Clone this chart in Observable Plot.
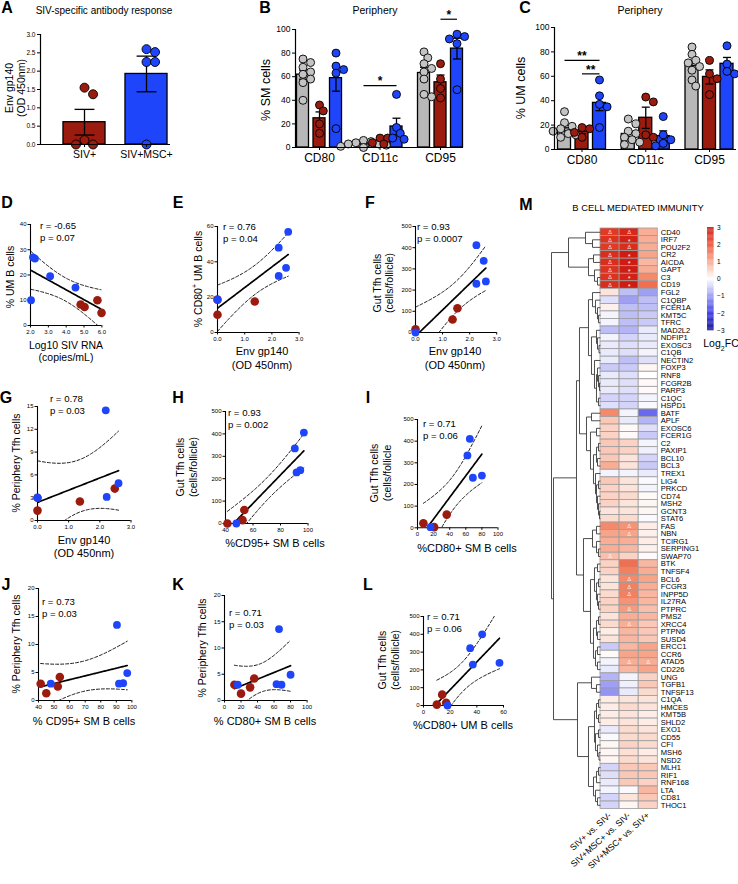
<!DOCTYPE html>
<html><head><meta charset="utf-8">
<script src="https://cdn.jsdelivr.net/npm/d3@7"></script>
<script src="https://cdn.jsdelivr.net/npm/@observablehq/plot@0.6"></script>
<style>
html,body{margin:0;padding:0;background:#fff;overflow:hidden}
#fig{position:relative;width:738px;height:884px;font-family:"Liberation Sans",Arial,Helvetica,sans-serif;color:#000}
.t{position:absolute;white-space:nowrap;line-height:1}
</style></head><body><div id="fig"></div>
<script>
// ---------------- DATA ----------------
const conds = ["SIV-", "SIV+", "SIV+MSC+"];
const markers = ["CD80", "CD11c", "CD95"];
// A: Env gp140 (OD 450nm)
const gpSIV = [1.55, 1.37, 0.12, 0, 0];
const gpMSC = [2.6, 2.52, 2.25, 2.25, 0];
// B: % SM cells [SIV-, SIV+, SIV+MSC+]
const smCD80 = [[75, 72, 68, 64, 62, 58, 55, 40], [36, 31, 20, 12], [80, 69, 66, 63, 16]];
const smCD11c = [[6, 5, 4, 3, 3, 2, 1, 0], [8, 8, 4, 3], [45, 17, 12, 8, 7]];
const smCD95 = [[81, 76, 71, 67, 64, 58, 45, 43], [71, 58, 50, 42], [96, 94, 92, 88, 49]];
// C: % UM cells
const umCD80 = [[31, 22, 19, 17, 15, 13, 12, 10], [18, 17, 14, 10], [57, 44, 37, 35, 18]];
const umCD11c = [[25, 21, 15, 13, 10, 8, 6, 4], [43, 39, 12, 10], [27, 12, 8, 5, 3]];
const umCD95 = [[84, 78, 73, 71, 68, 65, 57, 52], [73, 62, 58, 45], [85, 70, 64, 62]];
// significance bars: [marker index, cond from, cond to, y value, label]
const sigB = [[1, 0, 2, 52.5, "*"], [2, 1, 2, 108.7, "*"]];
const sigC = [[0, 0, 2, 73, "**"], [0, 1, 2, 62, "**"]];

// correlation panels: [x, y] pairs, red = SIV+, blue = SIV+MSC+
const dRed = [[4.81, 8.3], [5.03, 7.3], [5.75, 10], [5.98, 5]];
const dBlue = [[2.03, 10], [2.14, 27], [2.25, 26.5], [3.1, 19.5], [4.52, 15]];
const eRed = [[0, 18.6], [0, 10], [1.37, 17.5]];
const eBlue = [[2.6, 57], [2.25, 48], [2.52, 36.6], [2.25, 32], [0, 18.6]];
const fRed = [[1.55, 114], [1.37, 61], [0, 15]];
const fBlue = [[2.25, 412], [2.52, 338], [2.25, 230], [2.6, 241], [0, 0]];
const gRed = [[2.48, 4.2], [1.36, 2.5], [0, 3.0], [0, 1.3]];
const gBlue = [[2.19, 14.5], [2.6, 4.9], [2.22, 3.1], [0, 3.0]];
const hRed = [[53.7, 60], [52.4, 15], [41.4, 0]];
const hBlue = [[97, 406], [90.4, 335], [94.4, 238], [91.7, 228], [47.9, 0]];
const iRed = [[7.3, 21], [36.3, 61], [20.7, 3]];
const iBlue = [[65, 411], [62, 334], [80, 241], [68.8, 231], [16.2, 3]];
const jRed = [[53.7, 4.2], [52.4, 2.5], [41.4, 3.0], [45, 1.3]];
const jBlue = [[90.4, 13.5], [97, 4.9], [94.4, 3.1], [91.7, 3.0], [47.9, 3.0]];
const kRed = [[36, 4.2], [31, 2.5], [12, 3.0], [20, 1.3]];
const kBlue = [[66, 13.6], [80, 4.9], [63, 3.1], [69, 3.0], [16, 3.0]];
const lRed = [[17, 15], [14, 61], [10, 5]];
const lBlue = [[44, 400], [35, 322], [57, 240], [37, 230], [18, 0]];
const stats = [["r = -0.65", "p = 0.07"], ["r = 0.76", "p = 0.04"], ["r = 0.93", "p = 0.0007"],
  ["r = 0.78", "p = 0.03"], ["r = 0.93", "p = 0.002"], ["r = 0.71", "p = 0.06"],
  ["r = 0.73", "p = 0.03"], ["r = 0.71", "p = 0.03"], ["r = 0.71", "p = 0.06"]];

// M: heatmap
const comps = ["SIV+ vs. SIV-", "SIV+MSC+ vs. SIV-", "SIV+MSC+ vs. SIV+"];
const genes = ["CD40","IRF7","POU2F2","CR2","AICDA","GAPT","C3","CD19",
  "FGL2","C1QBP","FCER1A","KMT5C","TFRC","MAD2L2","NDFIP1","EXOSC3","C1QB","NECTIN2","FOXP3","RNF8","FCGR2B","PARP3","C1QC","HSPD1",
  "BATF","APLF","EXOSC6","FCER1G","C2","PAXIP1","BCL10","BCL3","TREX1","LIG4","PRKCD","CD74","MSH2","GCNT3","STAT6",
  "FAS","NBN","TCIRG1","SERPING1","SWAP70","BTK","TNFSF4","BCL6","FCGR3","INPP5D","IL27RA","PTPRC","PMS2","XRCC4","PTPN6","SUSD4","ERCC1","CCR6","ATAD5","CD226",
  "UNG","TGFB1","TNFSF13","C1QA","HMCES","KMT5B","SHLD2","EXO1","CD55","CFI","MSH6","NSD2","MLH1","RIF1","RNF168","LTA","CD81","THOC1"];
const fc1 = [2.3,2.4,2.3,2.5,2.5,2.4,2.4,2.5,
  0.3,-0.3,0.15,-0.1,-0.1,-0.6,-0.1,-0.2,-0.2,-0.2,-0.5,-0.2,-0.2,-0.2,-0.4,-0.3,
  1.3,0.6,0.5,0.5,0.6,0.6,0.6,0.9,-0.1,0.6,0.5,0.5,0.5,0.3,0.4,
  1.3,1.0,0.9,0.9,0.7,0.5,0.5,0.3,0.3,0.4,0.5,0.5,0.3,0.4,0.2,0.3,-0.5,0.05,-0.1,-0.2,
  -0.7,-0.9,-1.0,0.2,0.2,0.2,0.2,-0.2,-0.05,0.1,0.1,0.1,-0.4,-0.3,-0.2,-0.1,-0.4,-0.4];
const fc2 = [2.6,2.7,2.5,2.8,2.8,2.8,2.7,2.8,
  -0.6,-0.9,-0.6,-0.6,-0.6,-0.7,-0.4,-0.3,-0.3,-0.6,-0.5,-0.3,-0.3,-0.3,-0.4,-0.4,
  -0.1,-0.2,0.05,0.05,0.5,0.5,0.3,0.3,-0.1,0.3,0.3,0.4,0.3,0.3,0.4,
  1.2,1.0,0.9,0.8,0.5,1.6,1.4,1.3,1.4,1.4,1.2,1.1,0.9,0.9,0.8,0.8,0.8,1.0,0.9,0.8,
  -0.1,-0.15,-0.2,0.3,0.4,0.3,0.3,0.4,0.4,0.5,0.35,0.4,0.6,0.6,0.6,-0.05,0.3,0.1];
const fc3 = [0.9,0.9,0.9,1.0,0.8,0.9,1.3,1.6,
  -0.9,-0.6,-0.6,-0.5,-0.5,-0.2,-0.2,-0.2,-0.1,-0.3,0.1,0.0,0.05,0.05,-0.1,-0.05,
  -1.4,-0.7,-0.3,-0.5,-0.1,-0.15,-0.4,-0.5,-0.2,-0.05,-0.1,0.05,0.1,0.1,-0.05,
  0.2,0.15,0.2,0.15,0.05,0.8,0.9,1.0,0.9,0.8,0.8,0.7,0.8,0.6,0.6,0.6,1.0,1.0,0.9,1.0,
  0.5,0.6,0.4,0.3,0.3,0.2,0.2,0.3,0.4,0.4,0.2,0.3,0.6,0.6,0.5,0.8,0.6,0.5];
// significance symbols: [gene, comparison index, symbol]
const sigM = [["CD40",0,"Δ"],["IRF7",0,"Δ"],["POU2F2",0,"Δ"],["CR2",0,"Δ"],["AICDA",0,"Δ"],["GAPT",0,"Δ"],["C3",0,"Δ"],["CD19",0,"Δ"],
  ["CD40",1,"Δ"],["IRF7",1,"*"],["POU2F2",1,"Δ"],["CR2",1,"*"],["AICDA",1,"*"],["GAPT",1,"*"],["C3",1,"*"],["CD19",1,"*"],
  ["FAS",1,"Δ"],["NBN",1,"Δ"],["SWAP70",0,"Δ"],["BCL6",1,"Δ"],["FCGR3",1,"Δ"],["INPP5D",1,"Δ"],["PTPRC",1,"Δ"],["XRCC4",1,"Δ"],["ATAD5",1,"Δ"],["ATAD5",2,"Δ"]];
// dendrogram: N(merge height, ...children)
const N = (h, ...c) => ({h, c});
const tree = N(49,
  N(32, N(15, "CD40", N(8, "IRF7", "POU2F2")), N(12, N(7, "CR2", "AICDA"), N(6, "GAPT", N(3, "C3", "CD19")))),
  N(47,
    N(24,
      N(21,
        N(12, N(8, "FGL2", N(5, "C1QBP", N(3, "FCER1A", N(2, "KMT5C", "TFRC")))),
              N(9, N(4, "MAD2L2", N(3, "NDFIP1", N(1.5, "EXOSC3", "C1QB"))),
                   N(6, "NECTIN2", N(4, N(3, "FOXP3", N(2, "RNF8", N(1, "FCGR2B", "PARP3"))), N(2, "C1QC", "HSPD1"))))),
        N(14, N(9, "BATF", "APLF"),
              N(10, N(4, "EXOSC6", "FCER1G"),
                    N(7, N(4, N(2, "C2", "PAXIP1"), N(3, "BCL10", "BCL3")),
                         N(5, "TREX1", N(4, N(2, "LIG4", "PRKCD"), N(3, "CD74", N(2, "MSH2", N(1, "GCNT3", "STAT6"))))))))),
      N(17, N(8, N(4, "FAS", "NBN"), N(4, "TCIRG1", N(2, "SERPING1", "SWAP70"))),
            N(10, N(6, N(3, "BTK", "TNFSF4"), N(4, N(2, "BCL6", "FCGR3"), N(3, "INPP5D", N(2, "IL27RA", "PTPRC")))),
                  N(7, N(4, N(2, "PMS2", "XRCC4"), N(3, "PTPN6", "SUSD4")), N(5, N(3, "ERCC1", "CCR6"), N(3, "ATAD5", "CD226")))))),
    N(23, N(9, "UNG", N(4, "TGFB1", "TNFSF13")),
          N(12, N(6, N(4, N(2, "C1QA", "HMCES"), N(2, "KMT5B", "SHLD2")), N(5, N(2, "EXO1", "CD55"), N(3, "CFI", N(1.5, "MSH6", "NSD2")))),
                N(7, N(4, N(2, "MLH1", "RIF1"), "RNF168"), N(5, "LTA", N(3, "CD81", "THOC1")))))));

// ---------------- RENDER ----------------
const fig = document.getElementById("fig");
const FONT = "'Liberation Sans', Arial, Helvetica, sans-serif";
const GRAY = "#b8b8b8", RED = "#9c1b0f", BLUE = "#1f45fb";
const M = 30;
const minus = d => (d < 0 ? "\u2212" + (-d) : "" + d);
function put(el, left, top) { el.style.position = "absolute"; el.style.left = left + "px"; el.style.top = top + "px"; fig.appendChild(el); }
function T(html, x, y, o = {}) {
  const d = document.createElement("div"); d.className = "t"; d.innerHTML = html;
  d.style.left = x + "px"; d.style.top = y + "px";
  d.style.fontSize = (o.size || 10) + "px"; if (o.bold) d.style.fontWeight = "bold";
  const tx = o.anchor === "start" ? "0" : "-50%";
  d.style.transform = `translate(${tx},-50%)` + (o.rot ? ` rotate(${o.rot}deg)` : "");
  fig.appendChild(d);
}
function framePlot(fx0, fx1, fy0, fy1, opts) {
  const p = Plot.plot(Object.assign({
    width: fx1 - fx0 + 2 * M, height: fy1 - fy0 + 2 * M,
    marginLeft: M, marginRight: M, marginTop: M, marginBottom: M,
    style: {overflow: "visible", background: "transparent", fontFamily: FONT, color: "#000"}
  }, opts));
  put(p, fx0 - M, fy0 - M);
  return p;
}
function swarm(vals, pxY, r) {
  const placed = [];
  return vals.map(v => {
    const y = v * pxY;
    for (let k = 0; k < 30; k++) {
      const c = k === 0 ? 0 : (k % 2 ? 1 : -1) * Math.ceil(k / 2) * r * 0.95;
      if (placed.every(p => (p.x - c) ** 2 + (p.y - y) ** 2 >= (1.75 * r) ** 2)) { placed.push({x: c, y}); return c; }
    }
    return 0;
  });
}
function barPanel(o) {
  const bars = [], pts = [];
  const pxY = (o.fy1 - o.fy0) / o.yMax;
  o.sets.forEach((grp, gi) => grp.forEach((vals, ci) => {
    const xc = gi + (ci - (grp.length - 1) / 2) * o.off;
    const mean = d3.mean(vals), sem = d3.deviation(vals) / Math.sqrt(vals.length);
    const k = o.byGroup ? gi : ci;
    bars.push({xc, mean, lo: mean - sem, hi: mean + sem, col: o.colors[k]});
    swarm(vals, pxY, o.r).forEach((dx, j) => pts.push({x: xc + dx / o.sp, y: vals[j], col: o.dotColors[k]}));
  }));
  const sig = (o.sig || []).map(([g, a, b, y, label]) => {
    const n = o.sets[g].length;
    return {x1: g + (a - (n - 1) / 2) * o.off, x2: g + (b - (n - 1) / 2) * o.off, y, label};
  });
  framePlot(o.fx0, o.fx1, o.fy0, o.fy1, {
    x: {domain: [(o.fx0 - o.c0) / o.sp, (o.fx1 - o.c0) / o.sp]},
    y: {domain: [0, o.yMax]},
    marks: [
      Plot.rect(bars, {x1: d => d.xc - o.half, x2: d => d.xc + o.half, y1: () => 0, y2: "mean", fill: "col", stroke: "#000", strokeWidth: 1.3}),
      Plot.link(bars, {x1: "xc", x2: "xc", y1: "lo", y2: "hi", stroke: "#000", strokeWidth: 1.3}),
      Plot.link(bars, {x1: d => d.xc - o.cap, x2: d => d.xc + o.cap, y1: "hi", y2: "hi", stroke: "#000", strokeWidth: 1.3}),
      Plot.link(bars, {x1: d => d.xc - o.cap, x2: d => d.xc + o.cap, y1: "lo", y2: "lo", stroke: "#000", strokeWidth: 1.3}),
      Plot.dot(pts, {x: "x", y: "y", r: o.r, fill: "col", stroke: "#000", strokeWidth: 0.9}),
      Plot.ruleX([(o.fx0 - o.c0) / o.sp], {strokeWidth: 1.2}),
      Plot.ruleY([0], {strokeWidth: 1.2}),
      Plot.axisY({ticks: o.yTicks, tickSize: 3, tickPadding: 2, fontSize: o.yFont, tickFormat: o.fmt, label: null}),
      Plot.axisX({ticks: o.names.map((_, i) => i), tickSize: 3, tickPadding: 3, fontSize: o.xFont, tickFormat: i => o.names[i], label: null}),
      Plot.link(sig, {x1: "x1", x2: "x2", y1: "y", y2: "y", stroke: "#000", strokeWidth: 1.2}),
      Plot.text(sig, {x: d => (d.x1 + d.x2) / 2, y: "y", text: "label", dy: -4, fontSize: 12, fontWeight: "bold"})
    ]
  });
}
const T95 = [0, 12.706, 4.303, 3.182, 2.776, 2.571, 2.447, 2.365, 2.306, 2.262, 2.228];
function regress(pts) {
  const n = pts.length, mx = d3.mean(pts, d => d.x), my = d3.mean(pts, d => d.y);
  const sxx = d3.sum(pts, d => (d.x - mx) ** 2), sxy = d3.sum(pts, d => (d.x - mx) * (d.y - my));
  const b = sxy / sxx, a = my - b * mx;
  const s = Math.sqrt(d3.sum(pts, d => (d.y - a - b * d.x) ** 2) / (n - 2));
  const t = T95[n - 2];
  const [x0, x1] = d3.extent(pts, d => d.x);
  return d3.range(61).map(i => {
    const x = x0 + (x1 - x0) * i / 60, f = a + b * x, se = s * Math.sqrt(1 / n + (x - mx) ** 2 / sxx);
    return {x, fit: f, up: f + t * se, lo: f - t * se};
  });
}
function scatter(o) {
  const reds = o.red.map(([x, y]) => ({x, y})), blues = o.blue.map(([x, y]) => ({x, y}));
  const fit = regress([...reds, ...blues]);
  framePlot(o.fx0, o.fx1, o.fy0, o.fy1, {
    x: {domain: o.xd}, y: {domain: o.yd},
    marks: [
      Plot.line(fit, {x: "x", y: "up", stroke: "#000", strokeWidth: 0.9, strokeDasharray: "3,2", clip: true}),
      Plot.line(fit, {x: "x", y: "lo", stroke: "#000", strokeWidth: 0.9, strokeDasharray: "3,2", clip: true}),
      Plot.line(fit, {x: "x", y: "fit", stroke: "#000", strokeWidth: 1.7, clip: true}),
      Plot.ruleX([o.xd[0]], {strokeWidth: 1.1}),
      Plot.ruleY([o.yd[0]], {strokeWidth: 1.1}),
      Plot.axisX({ticks: o.xt, tickSize: 2.5, tickPadding: 1.5, fontSize: 6, label: null}),
      Plot.axisY({ticks: o.yt, tickSize: 2.5, tickPadding: 1.5, fontSize: 6, label: null}),
      Plot.dot(reds, {x: "x", y: "y", r: 4.3, fill: RED}),
      Plot.dot(blues, {x: "x", y: "y", r: 3.9, fill: BLUE})
    ]
  });
  T(o.stat[0], o.sx, o.sy, {size: 9.6, anchor: "start"});
  T(o.stat[1], o.sx, o.sy + 12, {size: 9.6, anchor: "start"});
}

// ----- A -----
T("A", 7, 8, {size: 16, bold: true});
T("SIV-specific antibody response", 104, 11, {size: 10});
barPanel({fx0: 40, fx1: 170, fy0: 34, fy1: 144, c0: 84, sp: 62, off: 0, half: 0.339, cap: 0.16, r: 4.5,
  yMax: 3, yTicks: [0, 0.5, 1, 1.5, 2, 2.5, 3], fmt: d3.format(".1f"), yFont: 6.5, xFont: 10.5,
  names: ["SIV+", "SIV+MSC+"], sets: [[gpSIV], [gpMSC]], byGroup: true, colors: [RED, BLUE], dotColors: [RED, BLUE]});
T("Env gp140", 9, 88, {size: 10.5, rot: -90});
T("(OD 450nm)", 21, 88, {size: 10.5, rot: -90});

// ----- B -----
T("B", 265, 8, {size: 16, bold: true});
T("Periphery", 375, 10, {size: 10.5});
barPanel({fx0: 295, fx1: 463, fy0: 29, fy1: 147, c0: 319, sp: 60.5, off: 16.5 / 60.5, half: 6 / 60.5, cap: 4 / 60.5, r: 4,
  yMax: 100, yTicks: [0, 20, 40, 60, 80, 100], fmt: d3.format("d"), yFont: 8.5, xFont: 12,
  names: markers, sets: [smCD80, smCD11c, smCD95], colors: [GRAY, RED, BLUE], dotColors: ["#c4c4c4", RED, BLUE], sig: sigB});
T("% SM cells", 266, 90, {size: 12.5, rot: -90});

// ----- C -----
T("C", 525, 8, {size: 16, bold: true});
T("Periphery", 640, 10, {size: 10.5});
barPanel({fx0: 554, fx1: 736, fy0: 27, fy1: 149, c0: 581.5, sp: 63.75, off: 17.5 / 63.75, half: 6.5 / 63.75, cap: 4 / 63.75, r: 4,
  yMax: 100, yTicks: [0, 20, 40, 60, 80, 100], fmt: d3.format("d"), yFont: 8.5, xFont: 12,
  names: markers, sets: [umCD80, umCD11c, umCD95], colors: [GRAY, RED, BLUE], dotColors: ["#c4c4c4", RED, BLUE], sig: sigC});
T("% UM cells", 521, 88, {size: 12.5, rot: -90});

// ----- D..L -----
const lettersSc = [["D", 7, 203], ["E", 178, 203], ["F", 370, 203], ["G", 6, 398], ["H", 178, 398], ["I", 368, 398], ["J", 6, 585], ["K", 178, 585], ["L", 368, 585]];
lettersSc.forEach(([l, x, y]) => T(l, x, y, {size: 16, bold: true}));

scatter({fx0: 30, fx1: 101.4, fy0: 224, fy1: 325, xd: [2, 6], yd: [0, 40], xt: [2, 3, 4, 5, 6], yt: [0, 10, 20, 30, 40],
  red: dRed, blue: dBlue, stat: stats[0], sx: 40, sy: 226});
T("Log10 SIV RNA", 66, 345, {size: 10.5}); T("(copies/mL)", 66, 357, {size: 10.5});
T("% UM B cells", 10, 277, {size: 10.5, rot: -90});

scatter({fx0: 217, fx1: 298.6, fy0: 226, fy1: 332, xd: [0, 3], yd: [0, 60], xt: [0, 1, 2, 3], yt: [0, 20, 40, 60],
  red: eRed, blue: eBlue, stat: stats[1], sx: 223, sy: 227});
T("Env gp140", 262, 351, {size: 11}); T("(OD 450nm)", 262, 365, {size: 11});
T("% CD80<sup style='font-size:7px'>+</sup> UM B cells", 197, 279, {size: 10.5, rot: -90});

scatter({fx0: 414.5, fx1: 495.7, fy0: 226, fy1: 332, xd: [0, 3], yd: [0, 500], xt: [0, 1, 2, 3], yt: [0, 100, 200, 300, 400, 500],
  red: fRed, blue: fBlue, stat: stats[2], sx: 417, sy: 227});
T("Env gp140", 455, 351, {size: 11}); T("(OD 450nm)", 455, 365, {size: 11});
T("Gut Tfh cells", 377, 283, {size: 10.5, rot: -90}); T("(cells/follicle)", 389, 283, {size: 10.5, rot: -90});

scatter({fx0: 37.3, fx1: 130.8, fy0: 406, fy1: 520, xd: [0, 3], yd: [0, 15], xt: [0, 1, 2, 3], yt: [0, 3, 6, 9, 12, 15],
  red: gRed, blue: gBlue, stat: stats[3], sx: 50, sy: 399});
T("Env gp140", 84, 540, {size: 11}); T("(OD 450nm)", 84, 553, {size: 11});
T("% Periphery Tfh cells", 16, 463, {size: 10.5, rot: -90});

scatter({fx0: 224.5, fx1: 307, fy0: 410.7, fy1: 522.7, xd: [40, 100], yd: [0, 500], xt: [40, 60, 80, 100], yt: [0, 100, 200, 300, 400, 500],
  red: hRed, blue: hBlue, stat: stats[4], sx: 228, sy: 413});
T("%CD95+ SM B cells", 275, 543, {size: 11});
T("Gut Tfh cells", 180, 467, {size: 10.5, rot: -90}); T("(cells/follicle)", 193, 467, {size: 10.5, rot: -90});

scatter({fx0: 417, fx1: 497.5, fy0: 419, fy1: 527.3, xd: [0, 100], yd: [0, 500], xt: [0, 20, 40, 60, 80, 100], yt: [0, 100, 200, 300, 400, 500],
  red: iRed, blue: iBlue, stat: stats[5], sx: 423, sy: 424});
T("%CD80+ SM B cells", 467, 548, {size: 11});
T("Gut Tfh cells", 374, 473, {size: 10.5, rot: -90}); T("(cells/follicle", 387, 473, {size: 10.5, rot: -90});

scatter({fx0: 37.6, fx1: 131, fy0: 588, fy1: 700, xd: [40, 100], yd: [0, 20], xt: [40, 50, 60, 70, 80, 90, 100], yt: [0, 5, 10, 15, 20],
  red: jRed, blue: jBlue, stat: stats[6], sx: 42, sy: 602});
T("% CD95+ SM B cells", 84, 721, {size: 11});
T("% Periphery Tfh cells", 16, 644, {size: 10.5, rot: -90});

scatter({fx0: 224.4, fx1: 307, fy0: 595, fy1: 700, xd: [0, 100], yd: [0, 20], xt: [0, 20, 40, 60, 80, 100], yt: [0, 5, 10, 15, 20],
  red: kRed, blue: kBlue, stat: stats[7], sx: 229, sy: 613});
T("% CD80+ SM B cells", 265, 721, {size: 11});
T("% Periphery Tfh cells", 202, 648, {size: 10.5, rot: -90});

scatter({fx0: 423, fx1: 503, fy0: 616, fy1: 705, xd: [0, 60], yd: [0, 500], xt: [0, 20, 40, 60], yt: [0, 100, 200, 300, 400, 500],
  red: lRed, blue: lBlue, stat: stats[8], sx: 427, sy: 617});
T("%CD80+ UM B cells", 463, 725, {size: 11});
T("Gut Tfh cells", 382, 660, {size: 10.5, rot: -90}); T("(cells/follicle)", 395, 660, {size: 10.5, rot: -90});

// ----- M heatmap -----
T("M", 526, 205, {size: 16, bold: true});
T("B CELL MEDIATED IMMUNITY", 638, 208, {size: 9.4});
const colorScale = {type: "linear", domain: [-3, -2, -1, 0, 1, 2, 3],
  range: ["#00008c", "#2a2ae6", "#9494f3", "#ffffff", "#f8a488", "#ee4a2a", "#c80f0d"]};
const cells = [];
genes.forEach((g, i) => { cells.push({gene: g, comp: comps[0], v: fc1[i]}, {gene: g, comp: comps[1], v: fc2[i]}, {gene: g, comp: comps[2], v: fc3[i]}); });
const sigCells = sigM.map(([g, c, s]) => ({gene: g, comp: comps[c], s}));
const hx0 = 600, hx1 = 657.3, hy0 = 227.7, hy1 = 808.3;
const hm = Plot.plot({
  width: hx1 - hx0 + 60, height: hy1 - hy0 + 5 + 85,
  marginLeft: 0, marginRight: 60, marginTop: 5, marginBottom: 85,
  style: {overflow: "visible", background: "transparent", fontFamily: FONT, color: "#000"},
  x: {domain: comps, padding: 0, round: false},
  y: {domain: genes, padding: 0, round: false},
  color: colorScale,
  marks: [
    Plot.cell(cells, {x: "comp", y: "gene", fill: "v", stroke: "#9c9c9c", strokeWidth: 0.8, inset: 0}),
    Plot.text(sigCells.filter(d => d.s === "Δ"), {x: "comp", y: "gene", text: "s", fill: "#fff", fillOpacity: 0.8, fontSize: 6}),
    Plot.text(sigCells.filter(d => d.s === "*"), {x: "comp", y: "gene", text: "s", fill: "#fff", fillOpacity: 0.9, fontSize: 7.5, dy: 1.5}),
    Plot.axisY({anchor: "right", tickSize: 0, tickPadding: 3, fontSize: 7.6, label: null}),
    Plot.axisX({anchor: "bottom", tickSize: 0, tickPadding: 5, tickRotate: -42, fontSize: 8.8, label: null})
  ]
});
put(hm, hx0, hy0 - 5);

// dendrogram
const segs = [];
function layout(node) {
  if (typeof node === "string") return {y: genes.indexOf(node), h: 0};
  const kids = node.c.map(layout);
  const ys = kids.map(k => k.y);
  const y0 = d3.min(ys), y1 = d3.max(ys);
  segs.push({x1: node.h, x2: node.h, y1: y0, y2: y1});
  kids.forEach(k => segs.push({x1: node.h, x2: k.h, y1: k.y, y2: k.y}));
  return {y: (y0 + y1) / 2, h: node.h};
}
layout(tree);
const dx0 = 551, dx1 = 600;
const dg = Plot.plot({
  width: dx1 - dx0 + 10, height: hy1 - hy0 + 10,
  marginLeft: 5, marginRight: 5, marginTop: 5, marginBottom: 5,
  style: {overflow: "visible", background: "transparent"},
  x: {domain: [tree.h, 0], axis: null}, y: {domain: [genes.length - 0.5, -0.5], axis: null},
  marks: [Plot.link(segs, {x1: "x1", x2: "x2", y1: "y1", y2: "y2", stroke: "#3a3a3a", strokeWidth: 0.9})]
});
put(dg, dx0 - 5, hy0 - 5);

// colour bar
const cb0 = 706.7, cb1 = 713.3, cby0 = 226.7, cby1 = 330;
const steps = d3.range(-3, 3, 0.05);
const cb = Plot.plot({
  width: cb1 - cb0 + 30, height: cby1 - cby0 + 10,
  marginLeft: 0, marginRight: 30, marginTop: 5, marginBottom: 5,
  style: {overflow: "visible", background: "transparent", fontFamily: FONT, color: "#000"},
  x: {domain: [0, 1], axis: null}, y: {domain: [-3, 3]}, color: colorScale,
  marks: [
    Plot.rect(steps, {x1: () => 0, x2: () => 1, y1: d => d, y2: d => d + 0.051, fill: d => d + 0.025}),
    Plot.axisY({anchor: "right", ticks: [-3, -2, -1, 0, 1, 2, 3], tickSize: 0, tickPadding: 3, fontSize: 6.5, tickFormat: minus, label: null})
  ]
});
put(cb, cb0, cby0 - 5);
T("Log<sub style='font-size:7px'>2</sub>FC", 721, 345, {size: 10.5});
</script></body></html>
